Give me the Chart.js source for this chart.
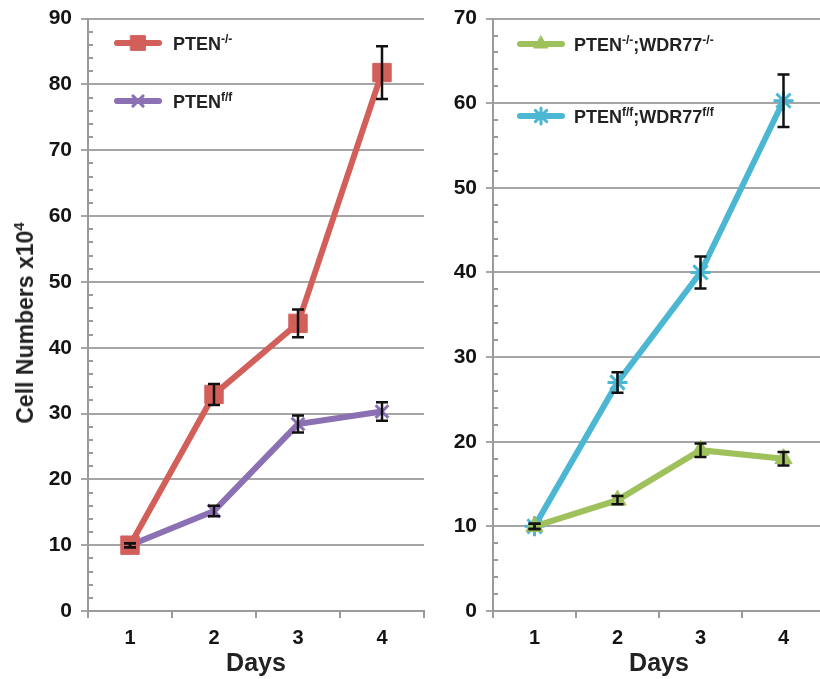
<!DOCTYPE html>
<html>
<head>
<meta charset="utf-8">
<script src="https://cdn.jsdelivr.net/npm/chart.js@4.4.0/dist/chart.umd.min.js"></script>
<style>
  body { margin: 0; width: 820px; height: 679px; overflow: hidden; background: #fff; position: relative;
         font-family: "Liberation Sans", Arial, Helvetica, sans-serif; }
  .panel { position: absolute; top: -3px; height: 682px; }
  #leftPanel { left: 0; width: 438px; }
  #rightPanel { left: 425px; width: 413px; }
  .lbl { position: absolute; font-weight: bold; font-size: 18px; color: #222; white-space: nowrap;
         line-height: 20px; transform: translateY(-50%); }
  .lbl sup { font-size: 12px; vertical-align: 7px; line-height: 0; }
  .ytitle { position: absolute; left: 25px; top: 323px; font-weight: bold; font-size: 23px; color: #222;
            white-space: nowrap; line-height: 26px; transform: translate(-50%, -50%) rotate(-90deg); }
  .ytitle sup { font-size: 15px; vertical-align: 9px; line-height: 0; }
</style>
</head>
<body>
<div class="panel" id="leftPanel"><canvas id="leftChart"></canvas></div>
<div class="panel" id="rightPanel"><canvas id="rightChart"></canvas></div>

<div class="ytitle">Cell Numbers x10<sup>4</sup></div>
<div class="lbl" style="left:173px;top:44px">PTEN<sup>-/-</sup></div>
<div class="lbl" style="left:173px;top:102px">PTEN<sup>f/f</sup></div>
<div class="lbl" style="left:574px;top:45px">PTEN<sup>-/-</sup>;WDR77<sup>-/-</sup></div>
<div class="lbl" style="left:574px;top:117px">PTEN<sup>f/f</sup>;WDR77<sup>f/f</sup></div>

<script>
// --- data ---
const days = ['1', '2', '3', '4'];

const ptenKO = [10, 32.9, 43.7, 81.8];
const ptenKOErr = [0.3, 1.6, 2.1, 4.0];
const ptenFF = [10, 15.2, 28.4, 30.3];
const ptenFFErr = [0.3, 0.8, 1.3, 1.4];

const dkoKO = [10, 13.1, 19.0, 18.0];
const dkoKOErr = [0.3, 0.5, 0.8, 0.8];
const dkoFF = [10, 27.0, 40.0, 60.3];
const dkoFFErr = [0.3, 1.2, 1.9, 3.1];

const leftMax = 90;
const rightMax = 70;

// --- colours ---
const RED = '#d35f5a';
const PURPLE = '#8b70b3';
const GREEN = '#9fc15c';
const CYAN = '#4bb7d3';
const GRID = '#a6a6a6';
const AXIS = '#9a9a9a';
const TEXT = '#141414';

Chart.defaults.font.family = '"Liberation Sans", Arial, Helvetica, sans-serif';
Chart.defaults.color = TEXT;

// error bars: vertical whiskers with caps, drawn over the lines
const errorBars = {
  id: 'errorBars',
  afterDatasetsDraw(chart) {
    const ctx = chart.ctx;
    const y = chart.scales.y;
    ctx.save();
    ctx.strokeStyle = '#111';
    ctx.lineWidth = 2.5;
    chart.data.datasets.forEach((ds, i) => {
      const meta = chart.getDatasetMeta(i);
      meta.data.forEach((pt, j) => {
        const v = ds.data[j], e = ds.errors[j];
        const top = y.getPixelForValue(v + e);
        const bot = y.getPixelForValue(v - e);
        ctx.beginPath();
        ctx.moveTo(pt.x, top); ctx.lineTo(pt.x, bot);
        ctx.moveTo(pt.x - 6, top); ctx.lineTo(pt.x + 6, top);
        ctx.moveTo(pt.x - 6, bot); ctx.lineTo(pt.x + 6, bot);
        ctx.stroke();
      });
    });
    ctx.restore();
  }
};

// small minor ticks every 2 units on the inside of the y axis
const minorTicks = {
  id: 'minorTicks',
  afterDraw(chart) {
    const ctx = chart.ctx;
    const y = chart.scales.y;
    const x0 = chart.chartArea.left;
    ctx.save();
    ctx.strokeStyle = AXIS;
    ctx.lineWidth = 2;
    for (let v = 2; v < y.max; v += 2) {
      if (v % 10 === 0) continue;
      const py = Math.round(y.getPixelForValue(v));
      ctx.beginPath();
      ctx.moveTo(x0, py); ctx.lineTo(x0 + 5, py);
      ctx.stroke();
    }
    ctx.restore();
  }
};

// legend swatches (line + marker) inside the plot; labels are HTML
const swatches = {
  id: 'swatches',
  afterDraw(chart, args, opts) {
    const ctx = chart.ctx;
    ctx.save();
    chart.data.datasets.forEach((ds, i) => {
      const p = opts.positions[i];
      ctx.strokeStyle = ds.borderColor;
      ctx.lineWidth = 6;
      ctx.lineCap = 'round';
      ctx.beginPath();
      ctx.moveTo(p.x - 21, p.y); ctx.lineTo(p.x + 21, p.y);
      ctx.stroke();
      ctx.fillStyle = ds.pointBackgroundColor;
      ctx.strokeStyle = ds.pointBorderColor;
      ctx.lineWidth = ds.pointBorderWidth;
      Chart.helpers.drawPoint(ctx, {
        pointStyle: ds.pointStyle, radius: ds.pointRadius * 0.8, rotation: 0, borderWidth: ds.pointBorderWidth
      }, p.x, p.y);
    });
    ctx.restore();
  }
};

function series(label, data, errors, color, style, radius, pbw) {
  return {
    label, data, errors,
    borderColor: color,
    borderWidth: 6,
    pointStyle: style,
    pointRadius: radius,
    pointHoverRadius: radius,
    pointBackgroundColor: color,
    pointBorderColor: color,
    pointBorderWidth: pbw,
    tension: 0
  };
}

function buildOptions(max, yWidth, padRight, legendPos) {
  return {
    responsive: false,
    animation: false,
    layout: { padding: { top: 15, right: padRight, left: 0, bottom: 0 } },
    plugins: {
      legend: { display: false },
      tooltip: { enabled: false },
      swatches: { positions: legendPos }
    },
    scales: {
      x: {
        offset: true,
        grid: { offset: true, drawOnChartArea: false, color: AXIS, lineWidth: 2, tickLength: 7 },
        border: { color: AXIS, width: 2 },
        ticks: { font: { size: 20, weight: 'bold' }, padding: 8, color: TEXT },
        title: { display: true, text: 'Days', font: { size: 25, weight: 'bold' }, color: '#222', padding: 0 },
        afterFit(s) { s.height = 68; }
      },
      y: {
        min: 0, max: max,
        ticks: { stepSize: 10, font: { size: 21, weight: 'bold' }, padding: 9, color: TEXT },
        grid: { color: GRID, lineWidth: 2, tickLength: 7 },
        border: { color: AXIS, width: 2 },
        afterFit(s) { s.width = yWidth; }
      }
    }
  };
}

// swatch positions are in page coordinates; canvases sit 3px above the page top
const leftCanvas = document.getElementById('leftChart');
leftCanvas.width = 438; leftCanvas.height = 682;
new Chart(leftCanvas, {
  type: 'line',
  data: {
    labels: days,
    datasets: [
      series('PTEN-/-', ptenKO, ptenKOErr, RED, 'rect', 13, 1),
      series('PTENf/f', ptenFF, ptenFFErr, PURPLE, 'crossRot', 9, 3)
    ]
  },
  options: buildOptions(leftMax, 88, 7, [{ x: 138, y: 46 }, { x: 138, y: 104 }]),
  plugins: [errorBars, minorTicks, swatches]
});

const rightCanvas = document.getElementById('rightChart');
rightCanvas.width = 413; rightCanvas.height = 682;
new Chart(rightCanvas, {
  type: 'line',
  data: {
    labels: days,
    datasets: [
      series('PTEN-/-;WDR77-/-', dkoKO, dkoKOErr, GREEN, 'triangle', 10, 1),
      series('PTENf/f;WDR77f/f', dkoFF, dkoFFErr, CYAN, 'star', 10, 3)
    ]
  },
  options: buildOptions(rightMax, 68, 5, [{ x: 116, y: 47 }, { x: 116, y: 119 }]),
  plugins: [errorBars, minorTicks, swatches]
});
</script>
</body>
</html>
